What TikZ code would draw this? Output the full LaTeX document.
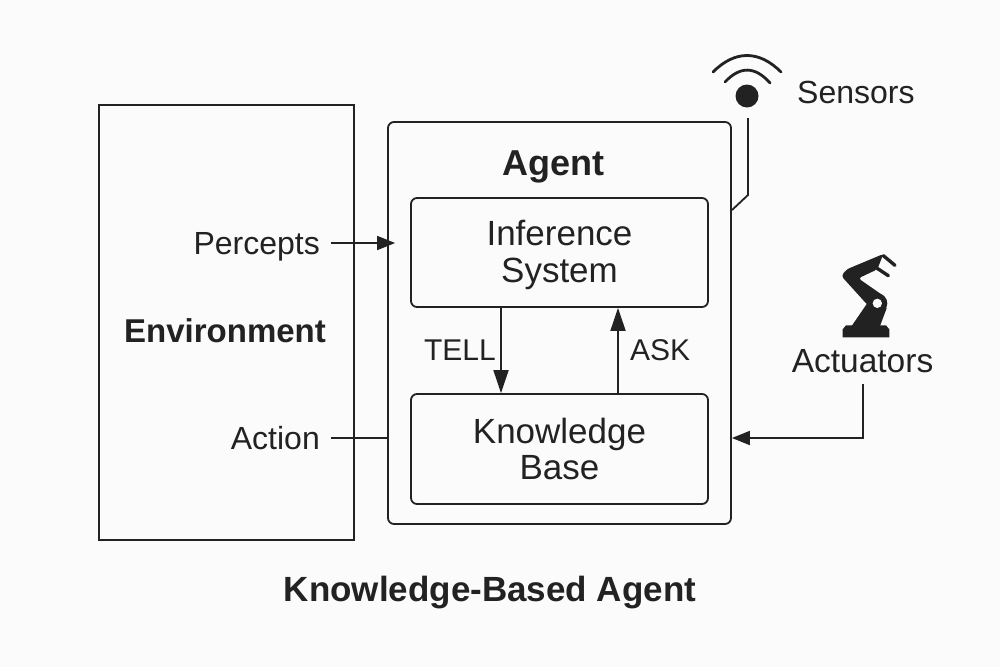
\documentclass[tikz,border=0pt]{standalone}
\usepackage{fontspec}
\setmainfont{Liberation Sans}
\usetikzlibrary{arrows.meta}
\definecolor{inkdark}{HTML}{222222}
\definecolor{paperbg}{HTML}{FBFBFB}
\tikzset{
    box/.style = {draw = inkdark, line width = 1.8pt, rounded corners = 6pt, minimum width = #1, inner sep = 0pt},
    label/.style = {text = inkdark, font = \fontsize{32}{37}\selectfont, align = center, inner sep = 0pt},
    boxlabel/.style = {text = inkdark, font = \fontsize{35}{#1}\selectfont, align = center},
    boldlabel/.style = {text = inkdark, font = \fontsize{#1}{38}\selectfont\bfseries, inner sep = 0pt},
    conn/.style = {draw = inkdark, line width = 1.8pt},
    arrowconn/.style = {conn, -{Triangle[length = 18pt, width = 14pt]}},
    longarrowconn/.style = {conn, -{Triangle[length = 23pt, width = 15pt]}},
}

\begin{document}
\begin{tikzpicture}[x = 1pt, y = -1pt]
\fill[paperbg] (0,0) rectangle (1000,667);
\useasboundingbox (0,0) rectangle (1000,667);

%boxes
\node[box = 255pt, rounded corners = 0pt, minimum height = 435pt] (environment) at (226.5,322.5) {};
\node[box = 343pt, minimum height = 402pt] (agent) at (559.5,323) {};
\node[box = 297pt, minimum height = 109pt, boxlabel = 37] (inference) at (559.5,252.5) {\rule{0pt}{31pt}Inference\\System};
\node[box = 297pt, minimum height = 110pt, boxlabel = 36] (knowledge) at (559.5,449) {Knowledge\\Base};

%titles
\node[boldlabel = 33] (envtitle) at (225,331) {Environment};
\node[boldlabel = 36] (agenttitle) at (553.5,167) {Agent};
\node[boldlabel = 35] (maintitle) at (490,593) {Knowledge-Based Agent};

%labels
\node[label, anchor = east] (percepts) at (320,247) {Percepts};
\node[label, anchor = east] (action) at (320,438) {Action};
\node[label, anchor = west] (sensors) at (797,92) {Sensors};
\node[label, font = \fontsize{33.5}{38}\selectfont] (actuators) at (862.5,361) {Actuators};
\node[label, font = \fontsize{30}{36}\selectfont, anchor = east] (tell) at (496,350) {TELL};
\node[label, font = \fontsize{30}{36}\selectfont, anchor = west] (ask) at (630,350) {ASK};

%sensor icon
\coordinate (sensorfoot) at (748,118);
\coordinate (sensorbend) at (748,195);
\coordinate (sensorend) at (732,210);
\fill[inkdark] (747,96) circle (11.5pt);
\draw[conn, line width = 2.8pt, line cap = round] (713,72) .. controls (735,50) and (759,50) .. (781,72);
\draw[conn, line width = 2.8pt, line cap = round] (725,82) .. controls (740,66) and (755,66) .. (770,83);

%robot arm
\begin{scope}[shift = {(720,240)}, x = 0.3333pt, y = -0.3333pt]
\fill[inkdark] (368,292) -- (368,268) -- (378,256) -- (498,256) -- (508,268) -- (508,292) -- cycle;
\fill[inkdark] (395,258) -- (445,185) -- (500,205) -- (480,258) -- cycle;
\fill[inkdark] (472,190) circle (30);
\fill[inkdark, rounded corners = 3pt] (364,108) -- (380,88) -- (490,42) -- (472,88) -- (415,115) -- (497,172) -- (470,220) -- (440,192) -- cycle;
\draw[inkdark, line width = 3.4pt, line cap = round] (490,47) -- (525,76);
\draw[inkdark, line width = 3.4pt, line cap = round] (470,84) -- (505,107);
\fill[paperbg] (472,190) circle (14);
\end{scope}

%connectors
\coordinate (tellx) at (501,0);
\coordinate (askx) at (618,0);
\coordinate (actuatorbend) at (863,438);
\coordinate (perceptsy) at (0,243);
\draw[arrowconn, shorten > = 15pt] (331,243) -- (inference.west |- perceptsy);
\draw[conn] (331,438) -- (agent.west |- actuatorbend);
\draw[longarrowconn] (inference.south -| tellx) -- (knowledge.north -| tellx);
\draw[longarrowconn] (knowledge.north -| askx) -- (inference.south -| askx);
\draw[conn] (sensorfoot) -- (sensorbend) -- (sensorend);
\draw[arrowconn] (863,384) -- (actuatorbend) -- (agent.east |- actuatorbend);
\end{tikzpicture}
\end{document}
